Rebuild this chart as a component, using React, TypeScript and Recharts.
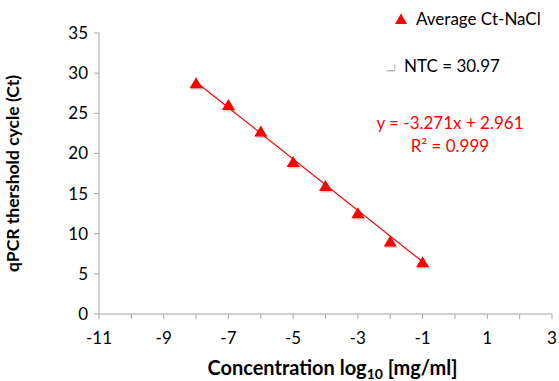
import { ScatterChart, Scatter, XAxis, YAxis, ReferenceLine } from 'recharts';

// values
const concentrationLog = [-8, -7, -6, -5, -4, -3, -2, -1];
const averageCt = [28.8, 26.1, 22.8, 19.0, 16.0, 12.6, 9.1, 6.5];
const xTicks = [-11, -10, -9, -8, -7, -6, -5, -4, -3, -2, -1, 0, 1, 2, 3];
const yTicks = [0, 5, 10, 15, 20, 25, 30, 35];
const trendX = [-8, -1];
const trendY = [28.9, 6.5];
const seriesName = 'Average Ct-NaCl';
const ntcLabel = 'NTC = 30.97';
const equationText = 'y = -3.271x + 2.961';
const r2Text = 'R² = 0.999';

const FONT = 'Lato, "Open Sans", sans-serif';
const RED = '#FF0000';
const AXIS = '#A6A6A6';

const points = concentrationLog.map((x, i) => ({ x, y: averageCt[i] }));

function Triangle(props: any) {
  const { cx, cy } = props;
  if (cx == null || cy == null) return null;
  const w = 6.5;
  const h = 5.5;
  const tri = (dx: number, dy: number) =>
    `${cx + dx},${cy - h + dy} ${cx + w + dx},${cy + h + dy} ${cx - w + dx},${cy + h + dy}`;
  return (
    <g>
      <polygon points={tri(1, 1.5)} fill="#000" fillOpacity={0.18} />
      <polygon points={tri(0, 0)} fill={RED} />
    </g>
  );
}

function XTitle(props: any) {
  const { viewBox } = props;
  const cx = viewBox.x + viewBox.width / 2;
  return (
    <text
      x={cx + 7}
      y={375}
      textAnchor="middle"
      fontFamily={FONT}
      fontSize={20}
      fontWeight={700}
      fill="#000"
    >
      Concentration log
      <tspan fontSize={14} dy={4}>10</tspan>
      <tspan dy={-4}> [mg/ml]</tspan>
    </text>
  );
}

export default function App() {
  return (
    <div style={{ position: 'absolute', left: 0, top: 0, width: 559, height: 381, background: '#fff' }}>
      <ScatterChart width={559} height={381} margin={{ top: 33, right: 7, bottom: 0, left: 0 }}>
        <XAxis
          type="number"
          dataKey="x"
          domain={[-11, 3]}
          ticks={xTicks}
          interval={0}
          height={67}
          tickFormatter={(v: number) => (Math.abs(v) % 2 === 1 ? String(v) : '')}
          tick={{ fontSize: 17, fill: '#000', fontFamily: FONT }}
          tickSize={5}
          tickMargin={13}
          tickLine={{ stroke: AXIS }}
          axisLine={{ stroke: AXIS }}
          label={XTitle}
        />
        <YAxis
          type="number"
          dataKey="y"
          domain={[0, 35]}
          ticks={yTicks}
          interval={0}
          width={99}
          tick={{ fontSize: 17, fill: '#000', fontFamily: FONT }}
          tickSize={5}
          tickMargin={6}
          tickLine={{ stroke: AXIS }}
          axisLine={{ stroke: AXIS }}
          label={{
            value: 'qPCR thershold cycle (Ct)',
            angle: -90,
            position: 'insideLeft',
            offset: 13,
            style: { fontSize: 17.5, fontWeight: 700, fill: '#000', fontFamily: FONT, textAnchor: 'middle' },
          }}
        />
        <ReferenceLine
          segment={[
            { x: trendX[0], y: trendY[0] },
            { x: trendX[1], y: trendY[1] },
          ]}
          stroke={RED}
          strokeWidth={1.2}
          ifOverflow="visible"
        />
        <Scatter
          name={seriesName}
          data={points}
          fill={RED}
          shape={<Triangle />}
          isAnimationActive={false}
        />
      </ScatterChart>

      {/* legend */}
      <div style={{ position: 'absolute', left: 394, top: 8, display: 'flex', alignItems: 'center', fontFamily: FONT, fontSize: 17 }}>
        <svg width={14} height={12} style={{ marginRight: 8 }}>
          <polygon points="7,0.5 13,11 1,11" fill={RED} />
        </svg>
        <span>{seriesName}</span>
      </div>
      <div style={{ position: 'absolute', left: 386, top: 55, display: 'flex', alignItems: 'center', fontFamily: FONT, fontSize: 17 }}>
        <div
          style={{
            width: 8,
            height: 8,
            background: '#fff',
            boxShadow: '1px 1.5px 1.5px rgba(0,0,0,0.35)',
            marginRight: 10,
          }}
        />
        <span>{ntcLabel}</span>
      </div>

      {/* trendline equation */}
      <div
        style={{
          position: 'absolute',
          left: 370,
          top: 111,
          width: 160,
          textAlign: 'center',
          fontFamily: FONT,
          fontSize: 17,
          color: RED,
          lineHeight: '23px',
        }}
      >
        <div>{equationText}</div>
        <div>{r2Text}</div>
      </div>
    </div>
  );
}
